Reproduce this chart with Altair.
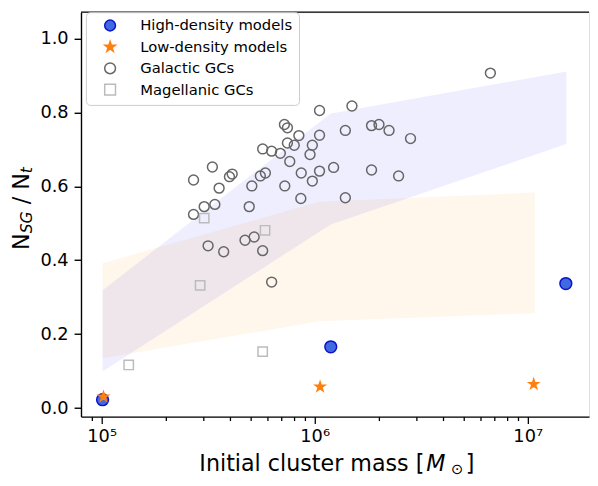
import altair as alt
import pandas as pd

# ---------------- data ----------------
gal_mass = [2.70e5, 3.31e5, 3.56e5, 3.98e5, 4.10e5, 3.03e5, 3.40e5, 2.70e5, 5.07e5, 4.93e5,
            5.70e5, 6.28e5, 5.56e5, 5.87e5, 6.90e5, 7.21e5, 7.45e5, 7.45e5, 8.02e5, 8.43e5,
            7.64e5, 7.24e5, 8.65e5, 8.61e5, 9.51e5, 9.75e5, 9.75e5, 1.054e6, 1.054e6, 1.054e6,
            1.227e6, 1.393e6, 1.393e6, 1.496e6, 3.16e5, 3.74e5, 4.71e5, 5.20e5, 5.70e5, 6.28e5,
            6.68e6, 1.849e6, 2.004e6, 2.234e6, 2.818e6, 1.849e6, 2.477e6]
gal_frac = [0.617, 0.652, 0.595, 0.626, 0.633, 0.545, 0.551, 0.524, 0.601, 0.545,
            0.701, 0.695, 0.628, 0.636, 0.689, 0.767, 0.758, 0.717, 0.711, 0.737,
            0.667, 0.601, 0.636, 0.567, 0.686, 0.711, 0.614, 0.738, 0.641, 0.805,
            0.651, 0.751, 0.569, 0.817, 0.439, 0.423, 0.454, 0.463, 0.426, 0.341,
            0.906, 0.764, 0.767, 0.751, 0.729, 0.644, 0.628]
mag_mass = [3.03e5, 5.85e5, 2.90e5, 5.70e5, 1.34e5]
mag_frac = [0.514, 0.481, 0.332, 0.153, 0.117]
hd_mass = [1.01e5, 1.19e6, 1.51e7]
hd_frac = [0.023, 0.166, 0.337]
ld_mass = [1.02e5, 1.06e6, 1.067e7]
ld_frac = [0.031, 0.058, 0.065]

hd_band_mass = [1.01e5, 1.19e6, 1.52e7]
hd_band_low = [0.099, 0.497, 0.714]
hd_band_high = [0.319, 0.797, 0.910]
ld_band_mass = [1.01e5, 1.05e6, 1.08e7]
ld_band_low = [0.135, 0.235, 0.257]
ld_band_high = [0.392, 0.558, 0.583]

STAR = ("M0,-1L0.225,-0.309L0.951,-0.309L0.363,0.118L0.588,0.809L0,0.382"
        "L-0.588,0.809L-0.363,0.118L-0.951,-0.309L-0.225,-0.309Z")

categories = ["High-density models", "Low-density models", "Galactic GCs", "Magellanic GCs"]
cat_fill = ["royalblue", "#ff7f0e", "transparent", "transparent"]
cat_stroke = ["#0a14c8", "#ff7f0e", "#666666", "#bbbbbb"]
cat_shape = ["circle", STAR, "circle", "square"]
cat_size = [144, 100, 100, 90]

x_major = [1e5, 1e6, 1e7]
x_minor = [9e4, 2e5, 3e5, 4e5, 5e5, 6e5, 7e5, 8e5, 9e5,
           2e6, 3e6, 4e6, 5e6, 6e6, 7e6, 8e6, 9e6]
y_ticks = [0.0, 0.2, 0.4, 0.6, 0.8, 1.0]

# ---------------- tables ----------------
rows = []
for m, f in zip(gal_mass, gal_frac):
    rows.append({"mass": m, "frac": f, "kind": categories[2]})
for m, f in zip(mag_mass, mag_frac):
    rows.append({"mass": m, "frac": f, "kind": categories[3]})
for m, f in zip(hd_mass, hd_frac):
    rows.append({"mass": m, "frac": f, "kind": categories[0]})
for m, f in zip(ld_mass, ld_frac):
    rows.append({"mass": m, "frac": f, "kind": categories[1]})
pts = pd.DataFrame(rows)
pts["sz"] = pts["kind"].map(dict(zip(categories, cat_size)))
pts["order"] = range(len(pts))

hd_band = pd.DataFrame({"mass": hd_band_mass, "lo": hd_band_low, "hi": hd_band_high})
ld_band = pd.DataFrame({"mass": ld_band_mass, "lo": ld_band_low, "hi": ld_band_high})

W, H = 515, 410
FONT = "DejaVu Sans"

xscale = alt.Scale(type="log", domain=[8.0e4, 1.94e7], nice=False)
yscale = alt.Scale(domain=[-0.0227, 1.0707], nice=False, zero=False)

major_test = "indexof([100000, 1000000, 10000000], datum.value) >= 0"
xaxis = alt.Axis(
    values=x_major + x_minor,
    labelExpr="datum.value == 100000 ? '10⁵' : datum.value == 1000000 ? '10⁶' : datum.value == 10000000 ? '10⁷' : ''",
    tickSize={"condition": {"test": major_test, "value": 7}, "value": 4},
    title=None, grid=False, domainColor="black", domainWidth=1.4, tickColor="black",
    tickWidth=1.3,
    labelFont=FONT, labelFontSize=18, labelColor="black", labelPadding=4,
    labelFlush=False, labelOverlap=False, labelBound=False,
)
yaxis = alt.Axis(
    values=y_ticks, format=".1f", title=None, grid=False, domainColor="black",
    domainWidth=1.4, tickColor="black", tickWidth=1.4, tickSize=7,
    labelFont=FONT, labelFontSize=18, labelColor="black", labelPadding=6,
    labelFlush=False, labelOverlap=False,
)

xenc = alt.X("mass:Q", scale=xscale, axis=xaxis)

band_hd = alt.Chart(hd_band).mark_area(color="blue", opacity=0.065).encode(
    x=xenc, y=alt.Y("lo:Q", scale=yscale, axis=yaxis), y2="hi:Q")
band_ld = alt.Chart(ld_band).mark_area(color="#ff8c00", opacity=0.075).encode(
    x=xenc, y=alt.Y("lo:Q", scale=yscale, axis=yaxis), y2="hi:Q")

leg = alt.Legend(
    title=None, orient="none", legendX=5, legendY=0, padding=6, symbolOffset=11,
    labelOffset=23, rowPadding=4.7, strokeColor="#cccccc", fillColor="rgba(255,255,255,0.8)",
    cornerRadius=4, labelFont=FONT, labelFontSize=15, labelColor="black",
    symbolStrokeWidth=1.5, symbolSize=120, labelLimit=0,
)

points = alt.Chart(pts).mark_point(opacity=1, strokeWidth=1.5).encode(
    x=xenc,
    y=alt.Y("frac:Q", scale=yscale, axis=yaxis),
    fill=alt.Fill("kind:N", scale=alt.Scale(domain=categories, range=cat_fill), legend=leg),
    stroke=alt.Stroke("kind:N", scale=alt.Scale(domain=categories, range=cat_stroke), legend=leg),
    shape=alt.Shape("kind:N", scale=alt.Scale(domain=categories, range=cat_shape), legend=leg),
    size=alt.Size("sz:Q", scale=None, legend=None),
    order=alt.Order("order:Q"),
)

# top spine
top = alt.Chart(pd.DataFrame({"a": [0]})).mark_rule(color="black", strokeWidth=1.4).encode(
    x=alt.value(0), x2=alt.value(W), y=alt.value(0))

# axis titles built from pieces (sub/superscripts)
def piece(txt, x, y, size, style="normal", angle=0):
    return alt.Chart(pd.DataFrame({"t": [txt]})).mark_text(
        font=FONT, fontSize=size, fontStyle=style, align="left", baseline="alphabetic",
        angle=angle, color="black").encode(x=alt.value(x), y=alt.value(y), text="t:N")

xt_y = 465.5
xtitle = [
    piece("Initial cluster mass [", 120, xt_y, 22.5),
    piece("M", 350, xt_y, 22.5, "italic"),
    piece("⊙", 375, xt_y + 3, 15),
    piece("]", 390, xt_y, 22.5),
]
yt_x = -53
ytitle = [
    piece("N", yt_x, 241, 22.5, angle=270),
    piece("SG", yt_x + 3.5, 224.2, 15.75, "italic", angle=270),
    piece("/", yt_x, 194.8, 22.5, angle=270),
    piece("N", yt_x, 180, 22.5, angle=270),
    piece("t", yt_x + 3.5, 163.2, 15.75, "italic", angle=270),
]

chart = alt.layer(band_hd, band_ld, points, top, *xtitle, *ytitle).properties(
    width=W, height=H,
    autosize=alt.AutoSizeParams(type="none"),
    padding={"left": 74, "top": 1, "right": 1, "bottom": 59},
).configure_view(stroke=None).configure(font=FONT)

chart.save("out.html", embed_options={"renderer": "svg", "actions": False})
